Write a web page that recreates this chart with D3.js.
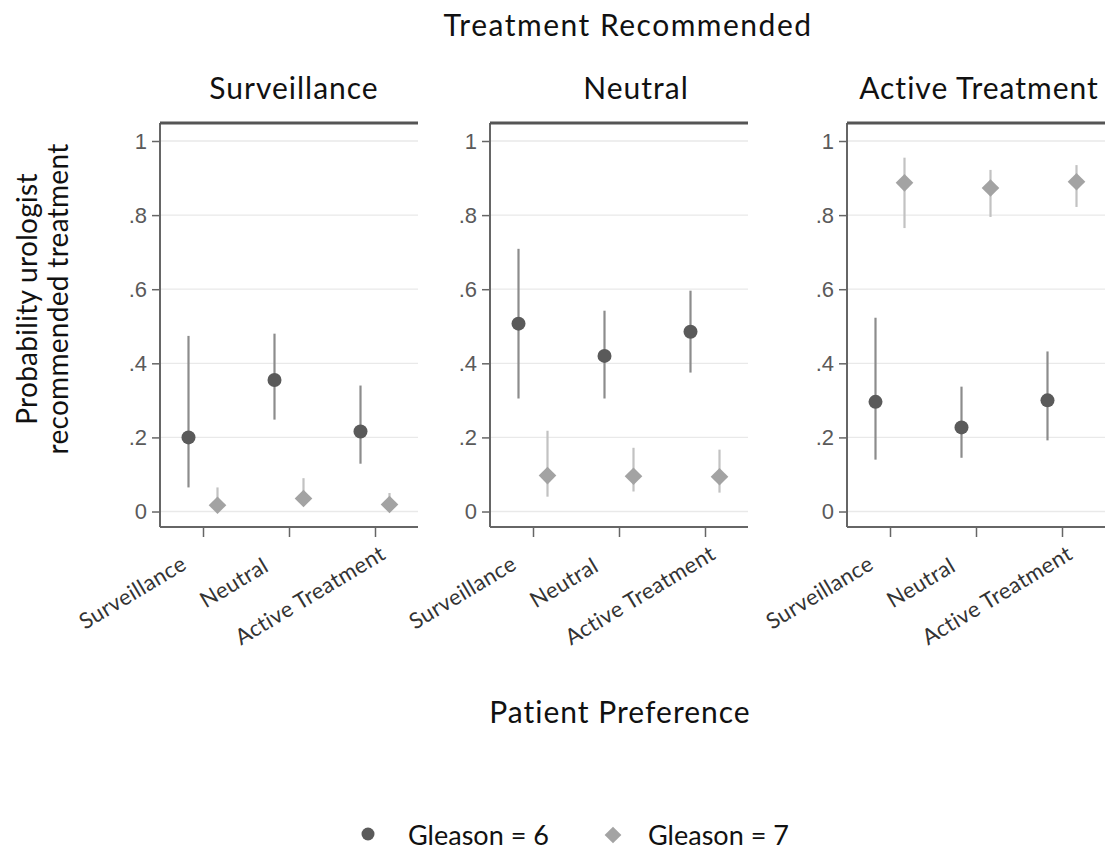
<!DOCTYPE html>
<html><head><meta charset="utf-8">
<script src="https://cdn.jsdelivr.net/npm/d3@7"></script>
<style>body{margin:0;background:#fff}</style>
</head><body>
<svg id="c" width="1113" height="852"></svg>
<script>
// ---- data ----
const panels = ["Surveillance", "Neutral", "Active Treatment"];          // treatment recommended
const categories = ["Surveillance", "Neutral", "Active Treatment"];      // patient preference
const series = ["Gleason = 6", "Gleason = 7"];
const yTicks = [0, 0.2, 0.4, 0.6, 0.8, 1];
const yTickLabels = ["0", ".2", ".4", ".6", ".8", "1"];
// point estimates and 95% CI [panel][category]
const g6Est = [[0.20, 0.355, 0.216], [0.507, 0.42, 0.485], [0.296, 0.227, 0.30]];
const g6Lo  = [[0.065, 0.248, 0.129], [0.305, 0.305, 0.375], [0.14, 0.145, 0.192]];
const g6Hi  = [[0.474, 0.48, 0.34], [0.709, 0.542, 0.596], [0.523, 0.337, 0.432]];
const g7Est = [[0.017, 0.035, 0.019], [0.097, 0.095, 0.094], [0.887, 0.873, 0.89]];
const g7Lo  = [[0.004, 0.015, 0.005], [0.04, 0.054, 0.051], [0.765, 0.795, 0.822]];
const g7Hi  = [[0.065, 0.09, 0.05], [0.218, 0.172, 0.167], [0.955, 0.922, 0.935]];

const svg = d3.select("#c");
const titleFont = "Lato, 'Open Sans', sans-serif";
const numFont = "'Liberation Sans', Arial, sans-serif";

// ---- layout ----
const panelLeft = [160, 490, 847];
const panelW = 258;
const plotTop = 123, plotBottom = 527;
const titleX = [294, 636, 979];
const labelShift = [[-15, 41], [-19, 43], [12, 31]];   // end-anchor offset of rotated x labels from tick

const y = d3.scaleLinear().domain([-0.0418, 1.0486]).range([plotBottom, plotTop]);

const est = [g6Est, g7Est], lo = [g6Lo, g7Lo], hi = [g6Hi, g7Hi];
const ptColor = ["#5a5a5a", "#a3a3a3"];
const ciColor = ["#8c8c8c", "#c2c2c2"];

panels.forEach((p, pi) => {
  const L = panelLeft[pi];
  const x = d3.scalePoint().domain(categories).range([L, L + panelW]).padding(0.5);
  const xs = d3.scalePoint().domain(series).range([-14.5, 14.5]);
  const g = svg.append("g");

  // gridlines
  g.selectAll("line.grid").data(yTicks).join("line")
    .attr("x1", L).attr("x2", L + panelW)
    .attr("y1", d => y(d)).attr("y2", d => y(d))
    .attr("stroke", "#e9e9e9").attr("stroke-width", 1.3);

  // y axis
  const ya = g.append("g").attr("transform", `translate(${L},0)`)
    .call(d3.axisLeft(y).tickValues(yTicks).tickFormat((d, i) => yTickLabels[i]).tickSize(8).tickPadding(5));
  ya.select(".domain").attr("stroke", "#666").attr("stroke-width", 2).attr("d", `M0,${plotTop}V${plotBottom}`);
  ya.selectAll(".tick line").attr("stroke", "#666").attr("stroke-width", 1.5);
  ya.selectAll(".tick text").attr("font-family", numFont).attr("font-size", 22).attr("fill", "#5a5a5a");

  // x axis
  const xa = g.append("g").attr("transform", `translate(0,${plotBottom})`)
    .call(d3.axisBottom(x).tickSize(10).tickFormat(""));
  xa.select(".domain").attr("stroke", "#666").attr("stroke-width", 2.2).attr("d", `M${L},0H${L + panelW}`);
  xa.selectAll(".tick line").attr("stroke", "#666").attr("stroke-width", 1.5);
  g.selectAll("text.xl").data(categories).join("text")
    .attr("font-family", titleFont).attr("font-size", 22).attr("fill", "#333")
    .attr("letter-spacing", 0.4).attr("text-anchor", "end")
    .attr("transform", (d, i) => `translate(${x(d) + labelShift[i][0]},${plotBottom + labelShift[i][1]}) rotate(-31)`)
    .text(d => d);

  // top border
  g.append("line").attr("x1", L).attr("x2", L + panelW).attr("y1", plotTop).attr("y2", plotTop)
    .attr("stroke", "#555").attr("stroke-width", 3);

  // panel title
  g.append("text").attr("x", titleX[pi]).attr("y", 99).attr("text-anchor", "middle")
    .attr("font-family", titleFont).attr("font-size", 30).attr("letter-spacing", 1).attr("fill", "#111").text(p);

  // CIs and points
  series.forEach((s, si) => {
    const rows = categories.map((c, ci) => ({c, e: est[si][pi][ci], l: lo[si][pi][ci], h: hi[si][pi][ci]}));
    g.selectAll(null).data(rows).join("line")
      .attr("x1", d => x(d.c) + xs(s)).attr("x2", d => x(d.c) + xs(s))
      .attr("y1", d => y(d.l)).attr("y2", d => y(d.h))
      .attr("stroke", ciColor[si]).attr("stroke-width", 2.2);
    if (si === 0) {
      g.selectAll(null).data(rows).join("circle")
        .attr("cx", d => x(d.c) + xs(s)).attr("cy", d => y(d.e)).attr("r", 7)
        .attr("fill", ptColor[si]);
    } else {
      g.selectAll(null).data(rows).join("path")
        .attr("d", d3.symbol(d3.symbolSquare, 155))
        .attr("transform", d => `translate(${x(d.c) + xs(s)},${y(d.e)}) rotate(45)`)
        .attr("fill", ptColor[si]);
    }
  });
});

// overall titles
svg.append("text").attr("x", 628).attr("y", 36).attr("text-anchor", "middle")
  .attr("font-family", titleFont).attr("font-size", 30).attr("letter-spacing", 1.5).attr("fill", "#111").text("Treatment Recommended");
svg.append("text").attr("x", 620).attr("y", 723).attr("text-anchor", "middle")
  .attr("font-family", titleFont).attr("font-size", 30).attr("letter-spacing", 1).attr("fill", "#111").text("Patient Preference");
const yt = svg.append("text").attr("transform", "translate(0,299) rotate(-90)").attr("text-anchor", "middle")
  .attr("font-family", titleFont).attr("font-size", 28).attr("letter-spacing", 0.3).attr("fill", "#111");
yt.append("tspan").attr("x", 0).attr("y", 37).text("Probability urologist");
yt.append("tspan").attr("x", 0).attr("y", 68).text("recommended treatment");

// legend
const leg = svg.append("g");
leg.append("circle").attr("cx", 368).attr("cy", 834).attr("r", 6.5).attr("fill", ptColor[0]);
leg.append("path").attr("d", d3.symbol(d3.symbolSquare, 140))
  .attr("transform", "translate(613,835) rotate(45)").attr("fill", ptColor[1]);
leg.append("text").attr("x", 408).attr("y", 845).attr("font-family", titleFont).attr("font-size", 27)
  .attr("fill", "#111").text(series[0]);
leg.append("text").attr("x", 648).attr("y", 845).attr("font-family", titleFont).attr("font-size", 27)
  .attr("fill", "#111").text(series[1]);
</script>
</body></html>
